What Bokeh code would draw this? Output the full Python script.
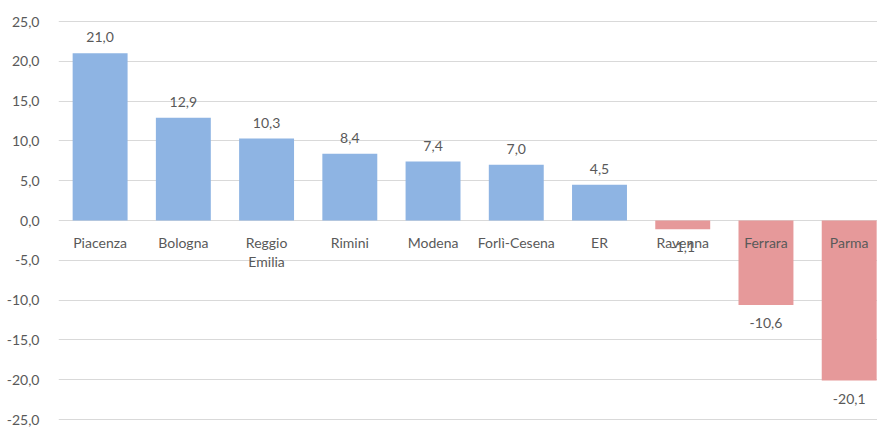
from bokeh.plotting import figure
from bokeh.models import ColumnDataSource, CustomJSTickFormatter, Range1d, FixedTicker
from bokeh.embed import file_html
from bokeh.resources import INLINE
from bokeh.core.properties import value

categories = ["Piacenza", "Bologna", "Reggio\nEmilia", "Rimini", "Modena",
              "Forlì-Cesena", "ER", "Ravenna", "Ferrara", "Parma"]
values = [21.0, 12.9, 10.3, 8.4, 7.4, 7.0, 4.5, -1.1, -10.6, -20.1]
y_ticks = [-25, -20, -15, -10, -5, 0, 5, 10, 15, 20, 25]

BLUE = "#8EB4E3"
RED = "#E6999A"
TXT = "#595959"
FONT = "Lato"
FS = "14px"

xs = list(range(len(categories)))
colors = [BLUE if v >= 0 else RED for v in values]
labels = [f"{v:.1f}".replace(".", ",") for v in values]
pos = [v >= 0 for v in values]

src = ColumnDataSource(dict(x=xs, v=values, c=colors, cat=categories, lab=labels))
src_pos = ColumnDataSource(dict(x=[x for x, p in zip(xs, pos) if p],
                                v=[v for v, p in zip(values, pos) if p],
                                lab=[l for l, p in zip(labels, pos) if p]))
src_neg = ColumnDataSource(dict(x=[x for x, p in zip(xs, pos) if not p],
                                v=[v for v, p in zip(values, pos) if not p],
                                lab=[l for l, p in zip(labels, pos) if not p]))

p = figure(width=877, height=427, output_backend="svg", toolbar_location=None,
           x_range=Range1d(-0.5, 9.34), y_range=Range1d(-26.0, 27.64),
           min_border_left=58, min_border_right=0, min_border_top=0, min_border_bottom=0)
p.outline_line_color = None
p.background_fill_color = "white"
p.border_fill_color = "white"

p.vbar(x="x", top="v", bottom=0, width=0.66, fill_color="c", line_color=None, source=src)

# category labels just below the zero line
p.text(x="x", y=0, text="cat", source=src, text_align="center", text_baseline="top",
       y_offset=13, text_font=value(FONT), text_font_size=FS, text_color=TXT,
       text_line_height=1.15)

# value labels
p.text(x="x", y="v", text="lab", source=src_pos, text_align="center", text_baseline="middle",
       y_offset=-16, text_font=value(FONT), text_font_size=FS, text_color=TXT)
p.text(x="x", y="v", text="lab", source=src_neg, text_align="center", text_baseline="middle",
       y_offset=18, text_font=value(FONT), text_font_size=FS, text_color=TXT)

p.xaxis.visible = False
p.xgrid.visible = False
p.ygrid.grid_line_color = "#D9D9D9"
p.ygrid.ticker = FixedTicker(ticks=y_ticks)
p.yaxis.ticker = FixedTicker(ticks=y_ticks)
p.yaxis.formatter = CustomJSTickFormatter(code="return tick.toFixed(1).replace('.', ',');")
p.yaxis.axis_line_color = None
p.yaxis.major_tick_line_color = None
p.yaxis.minor_tick_line_color = None
p.yaxis.major_label_standoff = 13
p.yaxis.major_label_text_font = FONT
p.yaxis.major_label_text_font_size = FS
p.yaxis.major_label_text_color = TXT

open("out.html", "w").write(file_html(p, INLINE))
